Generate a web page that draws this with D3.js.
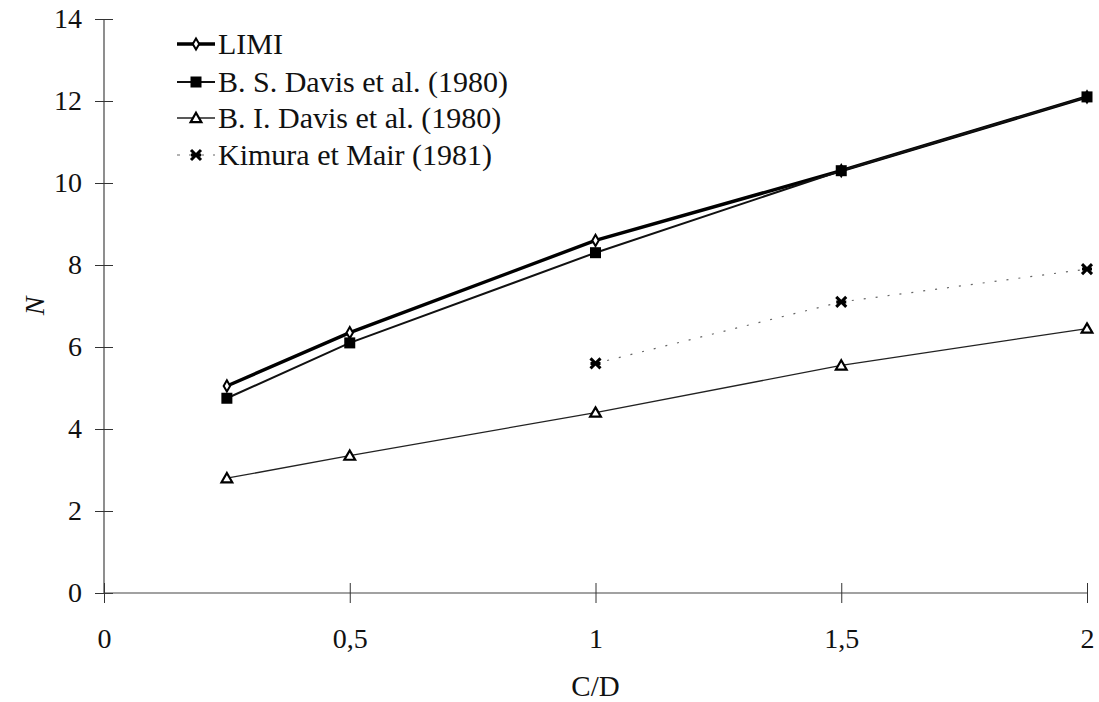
<!DOCTYPE html>
<html><head><meta charset="utf-8">
<script src="https://cdn.jsdelivr.net/npm/d3@7"></script>
<style>body{margin:0;background:#fff}svg{display:block}</style>
</head><body><svg id="c" width="1099" height="702"></svg>
<script>
const xValues = [0.25, 0.5, 1, 1.5, 2];
const limi = [5.05, 6.35, 8.6, 10.3, 12.1];
const bsDavis = [4.75, 6.1, 8.3, 10.3, 12.1];
const biDavis = [2.8, 3.35, 4.4, 5.55, 6.45];
const kimuraX = [1, 1.5, 2];
const kimura = [5.6, 7.1, 7.9];
const xTicks = [0, 0.5, 1, 1.5, 2];
const yTicks = [0, 2, 4, 6, 8, 10, 12, 14];
const seriesNames = ["LIMI", "B. S. Davis et al. (1980)", "B. I. Davis et al. (1980)", "Kimura et Mair (1981)"];

const FONT = '"Liberation Serif"';
const svg = d3.select("#c");
const x = d3.scaleLinear().domain([0, 2]).range([104, 1087]);
const y = d3.scaleLinear().domain([0, 14]).range([593, 19]);
const fmt = d => String(d).replace(".", ",");

function styleText(sel, size) {
  return sel.style("font-family", FONT).style("font-size", (size || 28) + "px").attr("fill", "#111");
}

// axes
const yAx = svg.append("g").attr("transform", `translate(${x(0)},0)`)
  .call(d3.axisLeft(y).tickValues(yTicks).tickSize(9).tickPadding(13).tickFormat(fmt));
const xAx = svg.append("g").attr("transform", `translate(0,${y(0)})`)
  .call(d3.axisBottom(x).tickValues(xTicks).tickSize(10).tickPadding(25).tickFormat(fmt));
[yAx, xAx].forEach(a => {
  a.attr("font-family", null).attr("font-size", null);
  a.select(".domain").attr("stroke", "#444").attr("stroke-width", 1.2);
  a.selectAll(".tick line").attr("stroke", "#333").attr("stroke-width", 1);
  styleText(a.selectAll("text"), 28);
});
yAx.selectAll(".tick line").attr("x1", 9);
xAx.selectAll(".tick line").attr("y1", -10);
xAx.selectAll(".domain").attr("d", `M${x(0)},0H${x(2)}`);
yAx.selectAll(".domain").attr("d", `M0,${y(0)}V${y(14)}`);

// labels
styleText(svg.append("text").attr("x", x(1)).attr("y", 696).attr("text-anchor", "middle"), 29).text("C/D");
styleText(svg.append("text").attr("transform", `translate(44,${y(7)}) rotate(-90)`).attr("text-anchor", "middle"), 28)
  .style("font-style", "italic").text("N");

const line = d3.line().x(d => x(d[0])).y(d => y(d[1]));
const series = [
  {pts: xValues.map((v,i)=>[v, limi[i]]), w: 3.4, dash: null, marker: "diamond", color:"#000"},
  {pts: xValues.map((v,i)=>[v, bsDavis[i]]), w: 2, dash: null, marker: "square", color:"#111"},
  {pts: xValues.map((v,i)=>[v, biDavis[i]]), w: 1.3, dash: null, marker: "triangle", color:"#222"},
  {pts: kimuraX.map((v,i)=>[v, kimura[i]]), w: 1.2, dash: "2,10", marker: "x", color:"#666"}
];

function drawMarker(g, type, cx, cy) {
  if (type === "diamond") {
    g.append("path").attr("d", d3.symbol(d3.symbolDiamond, 36)()).attr("transform", `translate(${cx},${cy})`)
      .attr("fill", "#fff").attr("stroke", "#000").attr("stroke-width", 2);
  } else if (type === "square") {
    g.append("rect").attr("x", cx-5.5).attr("y", cy-5.5).attr("width", 11).attr("height", 11).attr("fill", "#000");
  } else if (type === "triangle") {
    g.append("path").attr("d", d3.symbol(d3.symbolTriangle, 50)()).attr("transform", `translate(${cx},${cy+1})`)
      .attr("fill", "#fff").attr("stroke", "#000").attr("stroke-width", 2.2);
  } else {
    g.append("path").attr("d", `M${cx-5},${cy-5}L${cx+5},${cy+5}M${cx+5},${cy-5}L${cx-5},${cy+5}M${cx-5},${cy}H${cx+5}`)
      .attr("stroke", "#000").attr("stroke-width", 3);
  }
}

series.forEach(s => {
  svg.append("path").attr("d", line(s.pts)).attr("fill", "none").attr("stroke", s.color)
    .attr("stroke-width", s.w).attr("stroke-dasharray", s.dash);
  const g = svg.append("g");
  s.pts.forEach(p => drawMarker(g, s.marker, x(p[0]), y(p[1])));
});

// legend
const legY = [44, 82, 118, 155];
series.forEach((s, i) => {
  const g = svg.append("g");
  g.append("line").attr("x1", 177).attr("x2", 215).attr("y1", legY[i]).attr("y2", legY[i])
    .attr("stroke", s.color).attr("stroke-width", s.w).attr("stroke-dasharray", s.dash ? "3,9" : null);
  drawMarker(g, s.marker, 196, legY[i]);
  styleText(g.append("text").attr("x", 218).attr("y", legY[i] + 10), 30).text(seriesNames[i]);
});
</script></body></html>
